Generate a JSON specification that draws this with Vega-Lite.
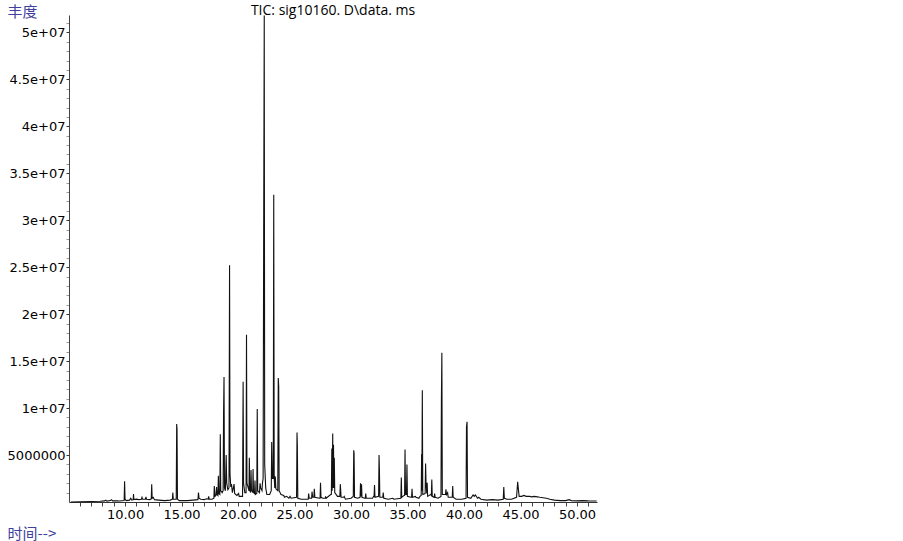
{
  "$schema": "https://vega.github.io/schema/vega-lite/v6.json",
  "width": 528,
  "height": 487,
  "autosize": "none",
  "padding": {"left": 69, "top": 15, "right": 306, "bottom": 39},
  "background": "white",
  "config": {"view": {"stroke": null}},
  "title": {
    "text": "TIC: sig10160. D\\data. ms",
    "anchor": "middle",
    "font": "Open Sans",
    "fontSize": 14,
    "fontWeight": "normal",
    "color": "#000000",
    "baseline": "alphabetic",
    "offset": 0,
    "dy": 25
  },
  "data": {
    "values": [
      {"t": 5.2, "a": 0},
      {"t": 6.0, "a": 20000},
      {"t": 7.0, "a": 50000},
      {"t": 7.8, "a": 80000},
      {"t": 8.2, "a": 120000},
      {"t": 8.3, "a": 200000},
      {"t": 8.4, "a": 100000},
      {"t": 8.7, "a": 150000},
      {"t": 8.8, "a": 250000},
      {"t": 8.9, "a": 120000},
      {"t": 9.3, "a": 120000},
      {"t": 9.5, "a": 100000},
      {"t": 9.92, "a": 150000},
      {"t": 9.96, "a": 2200000},
      {"t": 10.0, "a": 300000},
      {"t": 10.1, "a": 150000},
      {"t": 10.4, "a": 200000},
      {"t": 10.5, "a": 400000},
      {"t": 10.6, "a": 200000},
      {"t": 10.72, "a": 250000},
      {"t": 10.75, "a": 850000},
      {"t": 10.78, "a": 250000},
      {"t": 11.0, "a": 300000},
      {"t": 11.2, "a": 250000},
      {"t": 11.45, "a": 300000},
      {"t": 11.5, "a": 500000},
      {"t": 11.55, "a": 300000},
      {"t": 11.8, "a": 300000},
      {"t": 11.85, "a": 550000},
      {"t": 11.9, "a": 300000},
      {"t": 12.2, "a": 250000},
      {"t": 12.32, "a": 350000},
      {"t": 12.36, "a": 1900000},
      {"t": 12.4, "a": 400000},
      {"t": 12.5, "a": 500000},
      {"t": 12.6, "a": 250000},
      {"t": 13.0, "a": 200000},
      {"t": 13.5, "a": 150000},
      {"t": 14.0, "a": 200000},
      {"t": 14.19, "a": 300000},
      {"t": 14.23, "a": 1000000},
      {"t": 14.27, "a": 300000},
      {"t": 14.53, "a": 300000},
      {"t": 14.57, "a": 8300000},
      {"t": 14.6, "a": 7800000},
      {"t": 14.64, "a": 300000},
      {"t": 14.8, "a": 150000},
      {"t": 15.5, "a": 150000},
      {"t": 16.0, "a": 200000},
      {"t": 16.45, "a": 250000},
      {"t": 16.5, "a": 1000000},
      {"t": 16.55, "a": 400000},
      {"t": 16.7, "a": 300000},
      {"t": 17.0, "a": 250000},
      {"t": 17.2, "a": 350000},
      {"t": 17.36, "a": 300000},
      {"t": 17.4, "a": 600000},
      {"t": 17.45, "a": 300000},
      {"t": 17.7, "a": 300000},
      {"t": 17.86, "a": 400000},
      {"t": 17.9, "a": 1700000},
      {"t": 17.96, "a": 600000},
      {"t": 18.05, "a": 700000},
      {"t": 18.1, "a": 1600000},
      {"t": 18.15, "a": 800000},
      {"t": 18.22, "a": 700000},
      {"t": 18.26, "a": 2800000},
      {"t": 18.3, "a": 900000},
      {"t": 18.39, "a": 800000},
      {"t": 18.43, "a": 7200000},
      {"t": 18.47, "a": 1200000},
      {"t": 18.6, "a": 1000000},
      {"t": 18.68, "a": 1200000},
      {"t": 18.72, "a": 9500000},
      {"t": 18.76, "a": 13300000},
      {"t": 18.8, "a": 1500000},
      {"t": 18.88, "a": 1200000},
      {"t": 18.95, "a": 5000000},
      {"t": 19.0, "a": 2000000},
      {"t": 19.1, "a": 1300000},
      {"t": 19.2, "a": 1500000},
      {"t": 19.25, "a": 25200000},
      {"t": 19.29, "a": 3000000},
      {"t": 19.36, "a": 1600000},
      {"t": 19.42, "a": 1900000},
      {"t": 19.5, "a": 1000000},
      {"t": 19.65, "a": 1900000},
      {"t": 19.7, "a": 900000},
      {"t": 19.9, "a": 700000},
      {"t": 20.05, "a": 900000},
      {"t": 20.1, "a": 600000},
      {"t": 20.4, "a": 600000},
      {"t": 20.45, "a": 12800000},
      {"t": 20.49, "a": 2000000},
      {"t": 20.6, "a": 1000000},
      {"t": 20.71, "a": 1000000},
      {"t": 20.75, "a": 17800000},
      {"t": 20.79, "a": 2000000},
      {"t": 20.9, "a": 1500000},
      {"t": 20.97, "a": 1200000},
      {"t": 21.0, "a": 4700000},
      {"t": 21.04, "a": 1200000},
      {"t": 21.12, "a": 1000000},
      {"t": 21.15, "a": 3400000},
      {"t": 21.19, "a": 1300000},
      {"t": 21.3, "a": 1000000},
      {"t": 21.33, "a": 3500000},
      {"t": 21.37, "a": 1000000},
      {"t": 21.46, "a": 900000},
      {"t": 21.5, "a": 2300000},
      {"t": 21.54, "a": 800000},
      {"t": 21.66, "a": 900000},
      {"t": 21.7, "a": 9900000},
      {"t": 21.74, "a": 1200000},
      {"t": 21.9, "a": 1000000},
      {"t": 21.95, "a": 2000000},
      {"t": 22.0, "a": 1500000},
      {"t": 22.12, "a": 1200000},
      {"t": 22.16, "a": 2000000},
      {"t": 22.22, "a": 2500000},
      {"t": 22.27, "a": 28600000},
      {"t": 22.32, "a": 51800000},
      {"t": 22.36, "a": 4000000},
      {"t": 22.45, "a": 1500000},
      {"t": 22.55, "a": 800000},
      {"t": 22.8, "a": 800000},
      {"t": 22.94, "a": 1200000},
      {"t": 22.98, "a": 6400000},
      {"t": 23.04, "a": 2500000},
      {"t": 23.12, "a": 2500000},
      {"t": 23.16, "a": 32700000},
      {"t": 23.2, "a": 2700000},
      {"t": 23.25, "a": 1500000},
      {"t": 23.3, "a": 2700000},
      {"t": 23.35, "a": 1400000},
      {"t": 23.52, "a": 1200000},
      {"t": 23.56, "a": 13200000},
      {"t": 23.6, "a": 12300000},
      {"t": 23.64, "a": 1200000},
      {"t": 23.8, "a": 800000},
      {"t": 24.05, "a": 700000},
      {"t": 24.1, "a": 500000},
      {"t": 24.3, "a": 600000},
      {"t": 24.5, "a": 400000},
      {"t": 24.6, "a": 600000},
      {"t": 24.7, "a": 400000},
      {"t": 25.18, "a": 500000},
      {"t": 25.22, "a": 7400000},
      {"t": 25.25, "a": 6000000},
      {"t": 25.29, "a": 400000},
      {"t": 25.6, "a": 300000},
      {"t": 26.0, "a": 300000},
      {"t": 26.21, "a": 300000},
      {"t": 26.25, "a": 900000},
      {"t": 26.3, "a": 400000},
      {"t": 26.51, "a": 400000},
      {"t": 26.55, "a": 1100000},
      {"t": 26.6, "a": 500000},
      {"t": 26.71, "a": 500000},
      {"t": 26.75, "a": 1400000},
      {"t": 26.8, "a": 500000},
      {"t": 27.2, "a": 400000},
      {"t": 27.26, "a": 400000},
      {"t": 27.3, "a": 2050000},
      {"t": 27.34, "a": 500000},
      {"t": 27.5, "a": 400000},
      {"t": 27.72, "a": 400000},
      {"t": 27.75, "a": 600000},
      {"t": 27.8, "a": 400000},
      {"t": 28.2, "a": 800000},
      {"t": 28.26, "a": 800000},
      {"t": 28.3, "a": 5700000},
      {"t": 28.33, "a": 1200000},
      {"t": 28.38, "a": 7300000},
      {"t": 28.41, "a": 1500000},
      {"t": 28.45, "a": 6100000},
      {"t": 28.48, "a": 1500000},
      {"t": 28.52, "a": 4700000},
      {"t": 28.56, "a": 1000000},
      {"t": 28.8, "a": 600000},
      {"t": 29.01, "a": 600000},
      {"t": 29.05, "a": 1900000},
      {"t": 29.08, "a": 1400000},
      {"t": 29.12, "a": 500000},
      {"t": 29.35, "a": 500000},
      {"t": 29.4, "a": 600000},
      {"t": 29.5, "a": 300000},
      {"t": 30.0, "a": 400000},
      {"t": 30.2, "a": 600000},
      {"t": 30.24, "a": 5500000},
      {"t": 30.27, "a": 5200000},
      {"t": 30.31, "a": 500000},
      {"t": 30.6, "a": 400000},
      {"t": 30.8, "a": 500000},
      {"t": 30.84, "a": 2000000},
      {"t": 30.88, "a": 600000},
      {"t": 30.93, "a": 1900000},
      {"t": 30.97, "a": 500000},
      {"t": 31.2, "a": 400000},
      {"t": 31.26, "a": 400000},
      {"t": 31.3, "a": 900000},
      {"t": 31.35, "a": 400000},
      {"t": 31.9, "a": 400000},
      {"t": 32.0, "a": 600000},
      {"t": 32.04, "a": 600000},
      {"t": 32.08, "a": 1800000},
      {"t": 32.12, "a": 500000},
      {"t": 32.44, "a": 600000},
      {"t": 32.48, "a": 5000000},
      {"t": 32.51, "a": 3600000},
      {"t": 32.55, "a": 500000},
      {"t": 32.81, "a": 500000},
      {"t": 32.85, "a": 1000000},
      {"t": 32.9, "a": 400000},
      {"t": 33.3, "a": 300000},
      {"t": 33.7, "a": 400000},
      {"t": 33.8, "a": 300000},
      {"t": 34.41, "a": 400000},
      {"t": 34.45, "a": 2600000},
      {"t": 34.49, "a": 500000},
      {"t": 34.7, "a": 700000},
      {"t": 34.74, "a": 700000},
      {"t": 34.78, "a": 5600000},
      {"t": 34.82, "a": 800000},
      {"t": 34.91, "a": 800000},
      {"t": 34.95, "a": 4000000},
      {"t": 34.99, "a": 600000},
      {"t": 35.3, "a": 500000},
      {"t": 35.36, "a": 500000},
      {"t": 35.4, "a": 1400000},
      {"t": 35.44, "a": 500000},
      {"t": 35.7, "a": 600000},
      {"t": 35.75, "a": 500000},
      {"t": 36.0, "a": 400000},
      {"t": 36.1, "a": 600000},
      {"t": 36.21, "a": 700000},
      {"t": 36.25, "a": 5100000},
      {"t": 36.27, "a": 1200000},
      {"t": 36.31, "a": 11900000},
      {"t": 36.35, "a": 800000},
      {"t": 36.56, "a": 900000},
      {"t": 36.6, "a": 4100000},
      {"t": 36.64, "a": 2000000},
      {"t": 36.7, "a": 900000},
      {"t": 36.74, "a": 2050000},
      {"t": 36.78, "a": 600000},
      {"t": 37.05, "a": 800000},
      {"t": 37.11, "a": 700000},
      {"t": 37.15, "a": 2400000},
      {"t": 37.19, "a": 600000},
      {"t": 37.36, "a": 500000},
      {"t": 37.4, "a": 900000},
      {"t": 37.45, "a": 500000},
      {"t": 37.7, "a": 400000},
      {"t": 37.96, "a": 600000},
      {"t": 38.0, "a": 11000000},
      {"t": 38.04, "a": 15900000},
      {"t": 38.08, "a": 800000},
      {"t": 38.3, "a": 800000},
      {"t": 38.36, "a": 800000},
      {"t": 38.4, "a": 1350000},
      {"t": 38.45, "a": 800000},
      {"t": 38.55, "a": 1000000},
      {"t": 38.6, "a": 500000},
      {"t": 38.96, "a": 500000},
      {"t": 39.0, "a": 1700000},
      {"t": 39.04, "a": 500000},
      {"t": 39.3, "a": 300000},
      {"t": 39.8, "a": 300000},
      {"t": 40.18, "a": 400000},
      {"t": 40.22, "a": 8000000},
      {"t": 40.27, "a": 8550000},
      {"t": 40.31, "a": 500000},
      {"t": 40.6, "a": 400000},
      {"t": 40.8, "a": 750000},
      {"t": 40.9, "a": 600000},
      {"t": 41.0, "a": 750000},
      {"t": 41.2, "a": 400000},
      {"t": 41.3, "a": 500000},
      {"t": 41.5, "a": 300000},
      {"t": 42.0, "a": 200000},
      {"t": 42.5, "a": 250000},
      {"t": 43.0, "a": 200000},
      {"t": 43.47, "a": 300000},
      {"t": 43.52, "a": 1600000},
      {"t": 43.57, "a": 400000},
      {"t": 43.8, "a": 300000},
      {"t": 44.2, "a": 300000},
      {"t": 44.65, "a": 500000},
      {"t": 44.75, "a": 2150000},
      {"t": 44.8, "a": 1500000},
      {"t": 44.88, "a": 600000},
      {"t": 45.1, "a": 600000},
      {"t": 45.3, "a": 700000},
      {"t": 45.5, "a": 600000},
      {"t": 45.8, "a": 600000},
      {"t": 46.0, "a": 550000},
      {"t": 46.2, "a": 600000},
      {"t": 46.5, "a": 550000},
      {"t": 46.7, "a": 500000},
      {"t": 47.0, "a": 450000},
      {"t": 47.3, "a": 400000},
      {"t": 47.6, "a": 300000},
      {"t": 48.0, "a": 200000},
      {"t": 48.5, "a": 150000},
      {"t": 49.0, "a": 150000},
      {"t": 49.3, "a": 250000},
      {"t": 49.5, "a": 150000},
      {"t": 50.0, "a": 120000},
      {"t": 50.5, "a": 150000},
      {"t": 51.0, "a": 120000},
      {"t": 51.74, "a": 100000}
    ]
  },
  "mark": {"type": "line", "color": "#111111", "strokeWidth": 1.1, "interpolate": "linear"},
  "encoding": {
    "x": {
      "field": "t",
      "type": "quantitative",
      "scale": {"domain": [5.04, 51.77], "nice": false, "zero": false},
      "axis": {
        "values": [6, 7, 8, 9, 10, 11, 12, 13, 14, 15, 16, 17, 18, 19, 20, 21, 22, 23, 24, 25, 26, 27, 28, 29, 30, 31, 32, 33, 34, 35, 36, 37, 38, 39, 40, 41, 42, 43, 44, 45, 46, 47, 48, 49, 50, 51],
        "labelExpr": "datum.value % 5 === 0 ? format(datum.value, '.2f') : ''",
        "labelFont": "DejaVu Sans",
        "labelFontSize": 13,
        "labelColor": "#000000",
        "labelPadding": 2,
        "labelOverlap": false,
        "tickSize": 4,
        "tickColor": "#444444",
        "domainColor": "#333333",
        "grid": false,
        "title": "时间-->",
        "titleFont": "Noto Sans CJK SC",
        "titleFontSize": 15,
        "titleFontWeight": "normal",
        "titleColor": "#3f3f9f",
        "titleAnchor": "start",
        "titleAlign": "left",
        "titleBaseline": "middle",
        "titleX": -62,
        "titleY": 31
      }
    },
    "y": {
      "field": "a",
      "type": "quantitative",
      "scale": {"domain": [0, 51850000], "nice": false, "zero": true},
      "axis": {
        "values": [1000000, 2000000, 3000000, 4000000, 5000000, 6000000, 7000000, 8000000, 9000000, 10000000, 11000000, 12000000, 13000000, 14000000, 15000000, 16000000, 17000000, 18000000, 19000000, 20000000, 21000000, 22000000, 23000000, 24000000, 25000000, 26000000, 27000000, 28000000, 29000000, 30000000, 31000000, 32000000, 33000000, 34000000, 35000000, 36000000, 37000000, 38000000, 39000000, 40000000, 41000000, 42000000, 43000000, 44000000, 45000000, 46000000, 47000000, 48000000, 49000000, 50000000, 51000000],
        "labelExpr": "datum.value % 5000000 !== 0 ? '' : (datum.value < 10000000 ? format(datum.value, 'd') : replace(format(datum.value, '.2~e'), 'e+7', 'e+07'))",
        "labelFont": "DejaVu Sans",
        "labelFontSize": 13,
        "labelColor": "#000000",
        "labelPadding": 1,
        "labelOverlap": false,
        "tickSize": 3,
        "tickColor": {"condition": {"test": "datum.value % 5000000 === 0", "value": "#333333"}, "value": "#9a9a9a"},
        "domainColor": "#444444",
        "grid": false,
        "title": "丰度",
        "titleFont": "Noto Sans CJK SC",
        "titleFontSize": 15,
        "titleFontWeight": "normal",
        "titleColor": "#3f3f9f",
        "titleAngle": 0,
        "titleAnchor": "start",
        "titleAlign": "left",
        "titleBaseline": "middle",
        "titleX": -62,
        "titleY": -4
      }
    }
  }
}
